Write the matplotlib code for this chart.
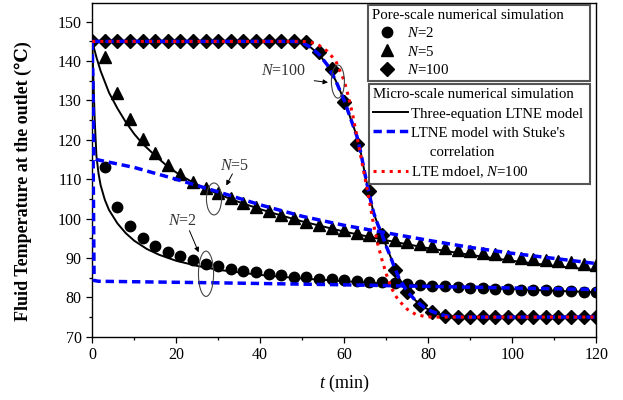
import numpy as np
import matplotlib
matplotlib.use("Agg")
import matplotlib.pyplot as plt
from matplotlib.patches import Ellipse
from matplotlib.lines import Line2D
from matplotlib.ticker import MultipleLocator

plt.rcParams['font.family'] = ['Liberation Serif', 'DejaVu Serif']
plt.rcParams['mathtext.fontset'] = 'custom'
plt.rcParams['mathtext.rm'] = 'Liberation Serif'
plt.rcParams['mathtext.it'] = 'Liberation Serif:italic'

# pore-scale simulation points (every 3 min)
t_n100 = [0, 3, 6, 9, 12, 15, 18, 21, 24, 27, 30, 33, 36, 39, 42, 45, 48, 51, 54, 57, 60,
          63, 66, 69, 72, 75, 78, 81, 84, 87, 90, 93, 96, 99, 102, 105, 108, 111, 114, 117, 120]
T_n100 = [145, 145, 145, 145, 145, 145, 145, 145, 145, 145, 145, 145, 145, 145, 145, 145, 145,
          144.8, 142.3, 138, 129.5, 119, 107, 95.8, 87, 81.5, 78, 76.3, 75.3,
          75, 75, 75, 75, 75, 75, 75, 75, 75, 75, 75, 75]
t_pts = [3, 6, 9, 12, 15, 18, 21, 24, 27, 30, 33, 36, 39, 42, 45, 48, 51, 54, 57, 60,
         63, 66, 69, 72, 75, 78, 81, 84, 87, 90, 93, 96, 99, 102, 105, 108, 111, 114, 117, 120]
T_n2 = [113, 102.9, 98.2, 95.1, 93.1, 91.5, 90.4, 89.4, 88.6, 87.9, 87.3, 86.8, 86.4, 86.0,
        85.6, 85.3, 85.1, 84.8, 84.6, 84.4, 84.2, 84.0, 83.8, 83.6, 83.4, 83.2, 83.0, 82.8,
        82.6, 82.5, 82.3, 82.2, 82.1, 82.0, 81.9, 81.8, 81.7, 81.6, 81.5, 81.4]
T_n5 = [141.1, 131.8, 125.3, 120.3, 116.6, 113.7, 111.4, 109.3, 107.8, 106.5, 105.2, 104.0,
        103.0, 101.9, 101.0, 100.1, 99.2, 98.4, 97.7, 97.0, 96.4, 95.8, 95.3, 94.7, 94.1,
        93.5, 93.0, 92.5, 92.1, 91.7, 91.3, 90.9, 90.5, 90.1, 89.8, 89.5, 89.2, 88.9, 88.6, 88.3]

# three-equation LTNE model
tl_2 = [0, 0.3, 0.6, 1, 1.5, 2, 3, 4, 6, 8, 10, 13, 16, 20, 25, 30, 40, 50, 60, 70, 80, 90, 100, 110, 120]
Tl_2 = [145, 135, 125, 116, 111.5, 108.5, 104.8, 102.2, 98.8, 96.3, 94.4, 92.3, 90.8, 89.3,
        88.0, 87.0, 85.7, 84.8, 84.1, 83.5, 83.0, 82.5, 82.1, 81.7, 81.3]
tl_5 = [0, 1, 2, 4, 6, 8, 10, 12, 15, 18, 21, 25, 30, 35, 40, 45, 50, 55, 60, 70, 80, 90, 100, 110, 120]
Tl_5 = [145, 141, 137.5, 132, 128, 124.5, 121.5, 119, 116, 113.2, 111, 108.6, 106.2, 104.2,
        102.4, 100.8, 99.3, 98, 96.7, 94.5, 92.5, 90.8, 89.3, 88, 86.9]
tl_100 = [0, 48, 50, 52, 54, 56, 58, 60, 62, 63, 64, 65, 66, 67, 68, 69, 70, 71, 72, 73,
          75, 77, 79, 81, 83, 85, 88, 120]
Tl_100 = [145, 145, 144.7, 143.5, 141.7, 139, 135, 130, 124, 121, 116.5, 111, 106, 101.5,
          98.5, 96, 93, 90.4, 87.5, 85, 81.5, 79.2, 77.5, 76.4, 75.6, 75.2, 75, 75]

# LTNE model with Stuke's correlation
ts_2 = [0, 0.45, 1.5, 30, 60, 90, 120]
Ts_2 = [145, 84.3, 84.1, 83.7, 83.2, 82.6, 82.0]
ts_5 = [0, 0.4, 1, 10, 20, 30, 40, 50, 60, 70, 80, 90, 100, 110, 120]
Ts_5 = [145, 115.5, 115, 113, 110, 106.8, 103.5, 100.6, 98.3, 96.4, 94.5, 92.7, 91.2, 89.9, 88.6]

# LTE model, N=100
te = [0, 50, 52, 54, 56, 58, 60, 61, 62, 63, 64, 65, 66, 67, 68, 69, 70, 71, 72, 73, 75, 77, 79, 81, 120]
Te = [145, 145, 144.8, 144, 142.5, 140, 135, 131, 126.5, 121, 115.5, 110, 104.5, 98.5,
      93.5, 89.5, 86, 83, 80.8, 79.2, 77, 75.7, 75.2, 75, 75]

BLUE_DASH = (2.4, 1.4)

fig = plt.figure(figsize=(6.23, 4.0), dpi=100)
ax = fig.add_axes([0.148, 0.158, 0.809, 0.835])

ax.plot(t_pts, T_n2, 'o', color='k', ms=7.5, zorder=2)
ax.plot(t_pts, T_n5, '^', color='k', ms=8.5, zorder=2)
ax.plot(t_n100, T_n100, 'D', color='k', ms=7.5, zorder=2)

for tt, TT in [(tl_2, Tl_2), (tl_5, Tl_5), (tl_100, Tl_100)]:
    ax.plot(tt, TT, '-', color='k', lw=1.4, zorder=3)
for tt, TT in [(ts_2, Ts_2), (ts_5, Ts_5), (tl_100, Tl_100)]:
    ax.plot(tt, TT, '--', color='#0000ff', lw=2.5, dashes=BLUE_DASH, zorder=4)
ax.plot(te, Te, ':', color='#ff0000', lw=2.2, zorder=5)

# annotations
for (cx, cy, w, h) in [(58.5, 134.8, 3.1, 8.4), (29.0, 105.0, 3.6, 8.1), (27.1, 86.0, 3.6, 11.5)]:
    ax.add_patch(Ellipse((cx, cy), w, h, fill=False, edgecolor='#444444', lw=0.8, zorder=6))
ann = [("$\\it{N}$=100", (45.6, 137.6), (52.2, 135.1), (56.8, 134.5)),
       ("$\\it{N}$=5", (34.0, 113.4), (33.7, 112.0), (31.6, 107.8)),
       ("$\\it{N}$=2", (21.4, 99.4), (22.9, 97.6), (25.6, 90.8))]
for txt, pos, a0, a1 in ann:
    ax.text(pos[0], pos[1], txt, fontsize=11.5, color='#333333', ha='center', va='center')
    ax.annotate('', xy=a1, xytext=a0,
                arrowprops=dict(arrowstyle='-|>', color='k', lw=0.7, mutation_scale=7))

ax.set_xlim(0, 120)
ax.set_ylim(70, 154.8)
ax.set_yticks(np.arange(70, 151, 10))
ax.xaxis.set_major_locator(MultipleLocator(20))
ax.xaxis.set_minor_locator(MultipleLocator(10))
ax.yaxis.set_minor_locator(MultipleLocator(5))
ax.tick_params(which='both', direction='out', top=False, right=False, labelsize=11.5)
ax.tick_params(which='major', length=4, width=0.9)
ax.tick_params(which='minor', length=2.5, width=0.9)
for s in ax.spines.values():
    s.set_linewidth(1.0)

ax.set_xlabel("$\\it{t}$ (min)", fontsize=13, labelpad=7)
ax.set_ylabel("Fluid Temperature at the outlet (\u2103)", fontsize=13, fontweight='bold')
ax.yaxis.set_label_coords(-0.119, 0.467)

# legends
h1 = [Line2D([], [], ls='none', marker='o', color='k', ms=7.5),
      Line2D([], [], ls='none', marker='^', color='k', ms=8.5),
      Line2D([], [], ls='none', marker='D', color='k', ms=7.5)]
l1 = ["$\\it{N}$=2", "$\\it{N}$=5", "$\\it{N}$=100"]
leg1 = ax.legend(h1, l1, title="Pore-scale numerical simulation", loc='upper left',
                 bbox_to_anchor=(368 / 623, 1 - 80 / 400, 222 / 623, 75 / 400),
                 bbox_transform=fig.transFigure, mode='expand',
                 borderaxespad=0, fontsize=10.7, title_fontsize=10.7, fancybox=False,
                 edgecolor='#555555', framealpha=1, handlelength=2.0, handletextpad=0.4,
                 labelspacing=0.3, borderpad=0.25)
leg1._legend_box.align = "left"
leg1.get_frame().set_linewidth(1.5)
ax.add_artist(leg1)

h2 = [Line2D([], [], color='k', lw=1.4),
      Line2D([], [], color='#0000ff', lw=2.5, ls='--', dashes=BLUE_DASH),
      Line2D([], [], ls='none'),
      Line2D([], [], color='#ff0000', lw=2.2, ls=':')]
l2 = ["Three-equation LTNE model", "LTNE model with Stuke's", "     correlation",
      "LTE mdoel, $\\it{N}$=100"]
leg2 = ax.legend(h2, l2, title="Micro-scale numerical simulation", loc='upper left',
                 bbox_to_anchor=(369 / 623, 1 - 182 / 400, 221 / 623, 98 / 400),
                 bbox_transform=fig.transFigure, mode='expand',
                 borderaxespad=0, fontsize=10.7, title_fontsize=10.7, fancybox=False,
                 edgecolor='#555555', framealpha=1, handlelength=2.35, handletextpad=0.2,
                 labelspacing=0.38, borderpad=0.3)
leg2._legend_box.align = "left"
leg2.get_frame().set_linewidth(1.5)

fig.savefig("out.png", dpi=100)
